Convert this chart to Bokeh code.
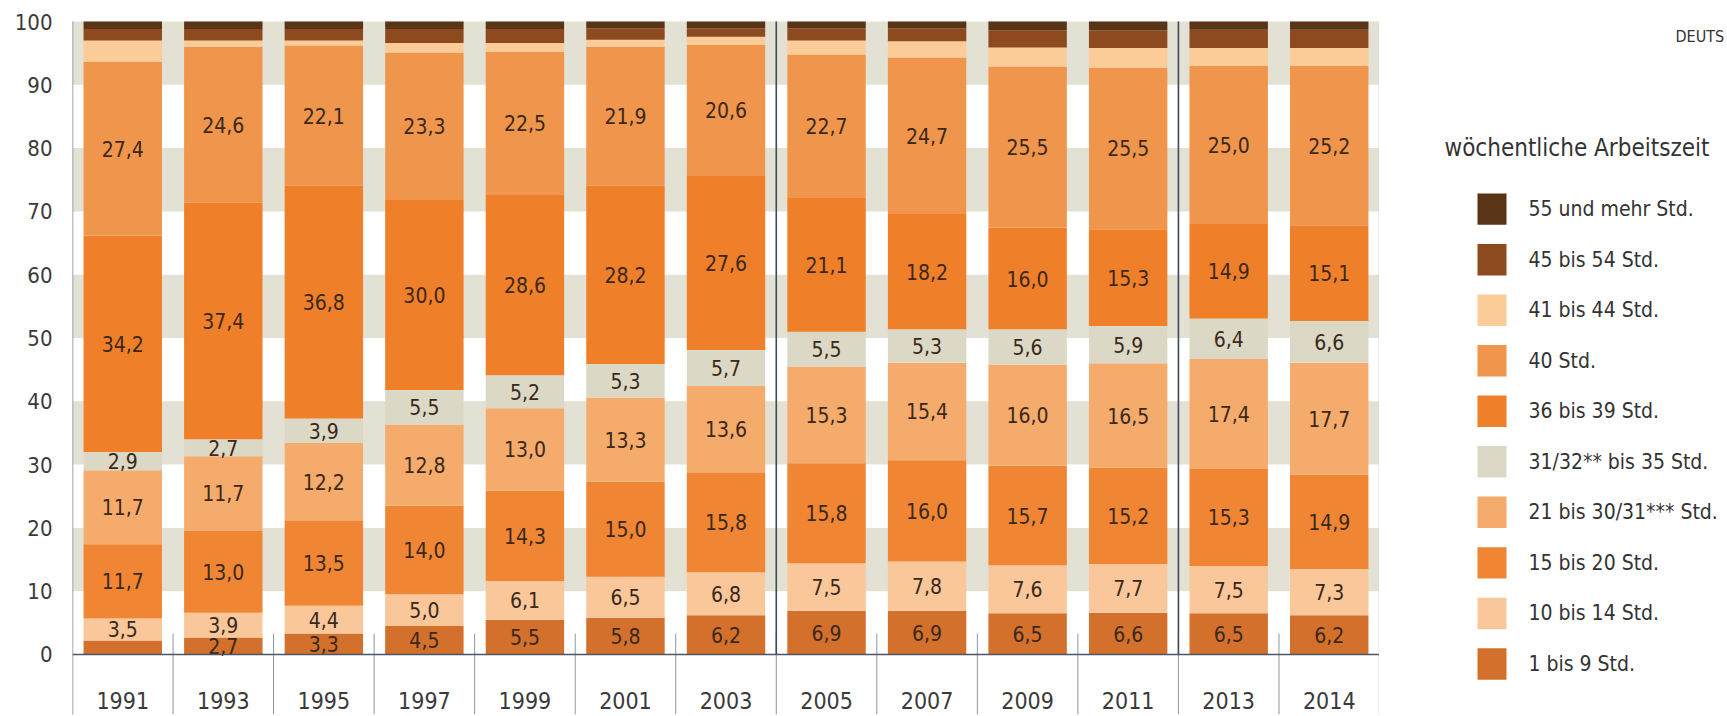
from bokeh.plotting import figure
from bokeh.layouts import row
from bokeh.models import FactorRange, FixedTicker, Range1d, ColumnDataSource
from bokeh.core.properties import value
from bokeh.embed import file_html
from bokeh.resources import INLINE

FONT = "DejaVu Sans Condensed, Roboto, sans-serif"

years = ["1991", "1993", "1995", "1997", "1999", "2001", "2003",
         "2005", "2007", "2009", "2011", "2013", "2014"]

# shares (%) by weekly working hours, bottom to top of each bar
h_1_9 = [2.2, 2.7, 3.3, 4.5, 5.5, 5.8, 6.2, 6.9, 6.9, 6.5, 6.6, 6.5, 6.2]
h_10_14 = [3.5, 3.9, 4.4, 5.0, 6.1, 6.5, 6.8, 7.5, 7.8, 7.6, 7.7, 7.5, 7.3]
h_15_20 = [11.7, 13.0, 13.5, 14.0, 14.3, 15.0, 15.8, 15.8, 16.0, 15.7, 15.2, 15.3, 14.9]
h_21_30 = [11.7, 11.7, 12.2, 12.8, 13.0, 13.3, 13.6, 15.3, 15.4, 16.0, 16.5, 17.4, 17.7]
h_31_35 = [2.9, 2.7, 3.9, 5.5, 5.2, 5.3, 5.7, 5.5, 5.3, 5.6, 5.9, 6.4, 6.6]
h_36_39 = [34.2, 37.4, 36.8, 30.0, 28.6, 28.2, 27.6, 21.1, 18.2, 16.0, 15.3, 14.9, 15.1]
h_40 = [27.4, 24.6, 22.1, 23.3, 22.5, 21.9, 20.6, 22.7, 24.7, 25.5, 25.5, 25.0, 25.2]
h_41_44 = [3.4, 1.0, 0.8, 1.5, 1.4, 1.1, 1.3, 2.2, 2.6, 3.0, 3.1, 2.8, 2.8]
h_45_54 = [1.8, 1.8, 1.8, 2.2, 2.2, 1.8, 1.3, 1.9, 2.0, 2.7, 2.8, 2.9, 2.9]
h_55 = [1.2, 1.2, 1.2, 1.2, 1.2, 1.1, 1.1, 1.1, 1.1, 1.4, 1.4, 1.3, 1.3]

series = [h_1_9, h_10_14, h_15_20, h_21_30, h_31_35, h_36_39, h_40, h_41_44, h_45_54, h_55]
names = ["1 bis 9 Std.", "10 bis 14 Std.", "15 bis 20 Std.", "21 bis 30/31*** Std.",
         "31/32** bis 35 Std.", "36 bis 39 Std.", "40 Std.", "41 bis 44 Std.",
         "45 bis 54 Std.", "55 und mehr Std."]
colors = ["#d2702c", "#f9c79a", "#f08634", "#f4ab6c", "#dcd8c6", "#ef7f28",
          "#f0954c", "#fbcb98", "#8d4a1e", "#5a3416"]
labelled = 7  # the lowest seven groups carry value labels
legend_title = "wöchentliche Arbeitszeit"

y_ticks = list(range(0, 101, 10))

keys = ["s%d" % i for i in range(len(series))]
src = ColumnDataSource(dict(year=years, **{k: s for k, s in zip(keys, series)}))

p = figure(x_range=FactorRange(*years, range_padding=0), y_range=(-9.48, 101.74),
           width=1379, height=716, output_backend="svg", toolbar_location=None,
           x_axis_location=None, min_border_left=72, min_border_right=0,
           min_border_top=10, min_border_bottom=2)
p.grid.visible = False
p.outline_line_color = None
p.background_fill_color = "white"

n = len(years)

# background bands
band_lo = y_ticks[1:-1:2]
p.quad(left=0, right=n, bottom=band_lo, top=[b + 10 for b in band_lo],
       fill_color="#e3e1d3", line_color=None)

renderers = p.vbar_stack(keys, x="year", width=0.78, source=src,
                         fill_color=colors, line_color=None)

# value labels
cum = [0.0] * n
lx, ly, lt = [], [], []
for si, s in enumerate(series):
    for i, v in enumerate(s):
        if si < labelled and v >= 2.5:
            lx.append(years[i])
            ly.append(cum[i] + v / 2)
            lt.append(("%.1f" % v).replace(".", ","))
        cum[i] += v
p.text(x=lx, y=ly, text=lt, text_align="center", text_baseline="middle",
       text_font=value(FONT), text_font_size="21px", text_color="#3a2818")

# separators below the bars
bounds = list(range(1, n))
p.segment(x0=bounds, y0=3.3, x1=bounds, y1=-9.5, line_color="#8a96a3", line_width=1)
# full-height dividers
div = [years.index("2005"), years.index("2013")]
p.segment(x0=div, y0=100, x1=div, y1=0, line_color="#3c4a5c", line_width=1.6)
# axis lines
p.segment(x0=0, y0=100, x1=0, y1=-9.5, line_color="#7a8796", line_width=1.5)
p.segment(x0=n, y0=100, x1=n, y1=-9.5, line_color="#b8c4d0", line_width=1.5)
p.segment(x0=0, y0=0, x1=n, y1=0, line_color="#4a5565", line_width=1.5)

# year labels
p.text(x=years, y=[-7.2] * n, text=years, text_align="center", text_baseline="middle",
       text_font=value(FONT), text_font_size="23px", text_color="#3a3a3a")

ax = p.yaxis[0]
ax.ticker = FixedTicker(ticks=y_ticks)
ax.major_tick_line_color = None
ax.minor_tick_line_color = None
ax.major_tick_out = 0
ax.axis_line_color = None
ax.major_label_standoff = 20
ax.major_label_text_font = FONT
ax.major_label_text_font_size = "22px"
ax.major_label_text_color = "#3a3a3a"

# legend panel (screen-like coordinates: x from 1379 to 1727, y downward)
q = figure(x_range=Range1d(1379, 1727), y_range=Range1d(716, 0), width=348, height=716,
           output_backend="svg", toolbar_location=None, x_axis_location=None,
           y_axis_location=None, min_border=0)
q.grid.visible = False
q.outline_line_color = None

rows = list(range(len(names)))[::-1]  # top row = last group
ly_leg = [202 + 51.4 * k for k in range(len(names))]
leg_colors = [colors[r] for r in rows]
leg_names = [names[r] for r in rows]
q.rect(x=[1491.5] * len(names), y=ly_leg, width=29, height=32,
       fill_color=leg_colors, line_color=None)
q.text(x=[1528] * len(names), y=ly_leg, text=leg_names, text_baseline="middle",
       text_font=value(FONT), text_font_size="21px", text_color="#333333")
q.text(x=[1444], y=[140], text=[legend_title], text_baseline="middle",
       text_font=value(FONT), text_font_size="24px", text_color="#333333")
q.text(x=[1675], y=[26], text=["DEUTS"], text_baseline="middle",
       text_font=value(FONT), text_font_size="16px", text_color="#333333")

layout = row(p, q)
open("out.html", "w").write(file_html(layout, INLINE))
